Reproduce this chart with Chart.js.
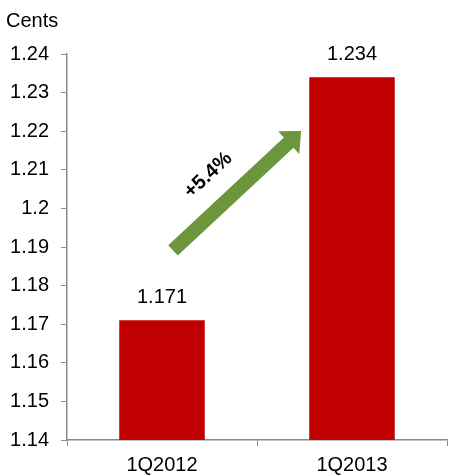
<!DOCTYPE html>
<html>
<head>
<meta charset="utf-8">
<script src="https://cdn.jsdelivr.net/npm/chart.js@4/dist/chart.umd.min.js"></script>
<style>
  html,body{margin:0;padding:0;background:#fff;}
  #wrap{width:449px;height:475px;position:relative;}
</style>
</head>
<body>
<div id="wrap"><canvas id="c" width="449" height="475"></canvas></div>
<script>
const quarters = ['1Q2012', '1Q2013'];
const cents = [1.171, 1.234];
const yMin = 1.14, yMax = 1.24, yStep = 0.01;
const growthLabel = '+5.4%';
const unitLabel = 'Cents';

const FONT = "'Liberation Sans', Arial, sans-serif";
const AXIS = '#8c8c8c';

// value labels above bars, unit title, and the green growth arrow
const extras = {
  id: 'extras',
  afterDatasetsDraw(chart) {
    const {ctx, chartArea: a} = chart;
    const meta = chart.getDatasetMeta(0);
    ctx.save();
    ctx.fillStyle = '#000';
    ctx.font = '20px ' + FONT;
    ctx.textAlign = 'center';
    ctx.textBaseline = 'middle';
    meta.data.forEach((bar, i) => {
      ctx.fillText(cents[i].toFixed(3), bar.x, bar.y - 23);
    });
    ctx.textAlign = 'left';
    ctx.fillText(unitLabel, 6, 21);

    // arrow from first bar toward the second
    const w = a.right - a.left, h = a.bottom - a.top;
    const x0 = a.left + w * 0.279, y0 = a.top + h * 0.509;
    const x1 = a.left + w * 0.616, y1 = a.top + h * 0.1995;
    const ang = Math.atan2(y1 - y0, x1 - x0);
    const len = Math.hypot(x1 - x0, y1 - y0);
    ctx.translate(x0, y0);
    ctx.rotate(ang);
    ctx.fillStyle = '#6b963b';
    const hw = 7, head = 17, hh = 15.5;
    ctx.beginPath();
    ctx.moveTo(0, -hw);
    ctx.lineTo(len - head, -hw);
    ctx.lineTo(len - head, -hh);
    ctx.lineTo(len, 0);
    ctx.lineTo(len - head, hh);
    ctx.lineTo(len - head, hw);
    ctx.lineTo(0, hw);
    ctx.closePath();
    ctx.fill();
    ctx.fillStyle = '#000';
    ctx.font = 'bold 20px ' + FONT;
    ctx.textAlign = 'center';
    ctx.textBaseline = 'middle';
    ctx.fillText(growthLabel, len * 0.44, -31);
    ctx.restore();
  }
};

new Chart(document.getElementById('c'), {
  type: 'bar',
  data: {
    labels: quarters,
    datasets: [{
      data: cents,
      backgroundColor: '#c00000',
      borderWidth: 0,
      categoryPercentage: 0.9,
      barPercentage: 0.5
    }]
  },
  options: {
    responsive: false,
    animation: false,
    layout: {padding: {top: 54, right: 2, left: 0, bottom: 0}},
    plugins: {legend: {display: false}, tooltip: {enabled: false}},
    scales: {
      x: {
        offset: true,
        grid: {display: true, offset: true, drawOnChartArea: false, color: AXIS, tickLength: 6},
        border: {color: AXIS, width: 1.5},
        ticks: {color: '#000', font: {family: FONT, size: 20}, padding: 7},
        afterFit(s) { s.height = 35; }
      },
      y: {
        min: yMin, max: yMax,
        grid: {drawOnChartArea: false, color: AXIS, tickLength: 6},
        border: {color: AXIS, width: 1.5},
        ticks: {
          stepSize: yStep, color: '#000', font: {family: FONT, size: 20}, padding: 12,
          callback: v => String(parseFloat(v.toFixed(2)))
        },
        afterFit(s) { s.width = 67; }
      }
    }
  },
  plugins: [extras]
});
</script>
</body>
</html>
